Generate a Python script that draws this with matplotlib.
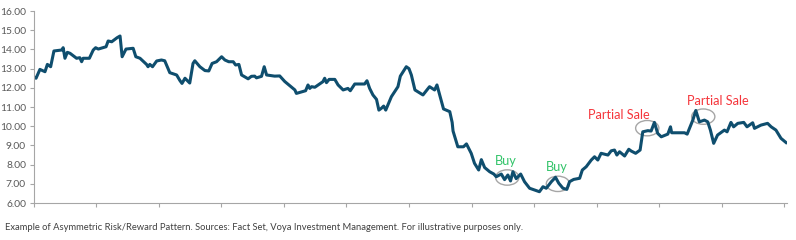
import matplotlib.pyplot as plt
from matplotlib.patches import Ellipse

plt.rcParams['font.family'] = ['Lato', 'DejaVu Sans']

# trading day index and share price
days = [0, 0.8, 2.1, 3.8, 4.6, 5.7, 6.8, 9.4, 9.9, 10.5, 11.3, 12.2, 14.4, 15.5, 16.1, 16.6,
        18.7, 20.0, 20.8, 21.7, 24.3, 25.0, 26.2, 28.0, 29.0, 29.7, 31.0, 33.4, 34.3, 35.7,
        37.9, 38.4, 39.0, 39.9, 41.3, 42.9, 44.0, 45.7, 48.0, 49.1, 49.8, 50.8, 52.4, 53.5,
        54.1, 55.8, 57.5, 58.8, 59.9, 61.4, 63.1, 64.2, 65.5, 67.0, 67.8, 68.9, 69.8, 72.0,
        73.1, 74.2, 74.8, 76.5, 77.4, 78.2, 80.9, 82.6, 84.3, 87.7, 88.2, 91.3, 92.1, 92.7,
        93.3, 94.4, 97.1, 97.7, 98.3, 99.2, 101.1, 102.2, 103.9, 105.5, 106.3, 107.8, 111.1,
        111.9, 112.8, 113.9, 115.1, 115.9, 116.7, 117.5, 118.2, 120.1, 122.3, 123.1, 125.1,
        126.0, 126.8, 128.0, 130.7, 132.9, 134.6, 135.4, 136.3, 137.6, 139.7, 140.5, 140.8,
        142.4, 144.3, 145.3, 146.9, 148.0, 149.4, 150.3, 151.4, 153.1, 154.5, 155.3, 157.0,
        158.1, 159.2, 160.1, 160.9, 162.0, 163.5, 164.8, 166.5, 167.6, 168.2, 169.8, 171.0,
        172.1, 173.8, 175.2, 176.3, 177.7, 179.0, 179.9, 181.3, 183.3, 184.2, 185.5, 187.2,
        188.3, 189.4, 190.5, 192.8, 193.9, 195.0, 195.8, 196.7, 198.4, 199.8, 200.6, 202.1,
        203.6, 204.5, 206.2, 207.3, 208.4, 209.5, 210.7, 212.9, 213.8, 214.2, 218.5, 219.4,
        221.3, 222.3, 223.5, 225.2, 226.3, 227.2, 228.3, 229.6, 231.9, 232.8, 234.1, 235.0,
        236.4, 238.4, 239.5, 241.4, 242.0, 244.2, 246.4, 247.6, 249.2, 250.9, 252.6]
price = [12.58, 12.5, 12.96, 12.84, 13.22, 13.1, 13.92, 13.97, 14.09, 13.54, 13.85, 13.8, 13.54,
         13.57, 13.36, 13.54, 13.54, 13.97, 14.09, 14.02, 14.14, 14.44, 14.4, 14.61, 14.7, 13.62,
         14.02, 14.06, 13.62, 13.54, 13.22, 13.1, 13.22, 13.1, 13.4, 13.45, 13.41, 12.79, 12.67,
         12.38, 12.23, 12.5, 12.25, 13.27, 13.41, 13.1, 12.9, 12.88, 13.27, 13.36, 13.62, 13.45,
         13.36, 13.36, 13.19, 13.22, 12.67, 12.47, 12.6, 12.61, 12.52, 12.6, 13.1, 12.67, 12.61,
         12.62, 12.33, 11.89, 11.71, 11.85, 12.15, 11.97, 12.06, 12.03, 12.32, 12.5, 12.27,
         12.44, 12.44, 12.15, 11.89, 11.97, 11.85, 12.2, 12.2, 12.37, 11.97, 11.63, 11.4, 10.84,
         10.93, 11.05, 10.84, 11.54, 12.06, 12.61, 13.1, 13.0, 12.67, 11.89, 11.63, 12.06,
         11.89, 12.15, 11.63, 10.9, 10.76, 10.2, 9.75, 8.93, 8.93, 9.08, 8.59, 8.07, 7.72, 8.26,
         7.85, 7.63, 7.51, 7.37, 7.51, 7.22, 7.46, 7.15, 7.63, 7.27, 7.51, 7.11, 6.77, 6.71,
         6.68, 6.59, 6.85, 6.77, 7.11, 7.34, 7.03, 6.77, 6.71, 7.11, 7.23, 7.29, 7.72, 7.89,
         8.24, 8.41, 8.24, 8.59, 8.5, 8.72, 8.76, 8.5, 8.67, 8.45, 8.8, 8.71, 8.59, 8.76, 9.71,
         9.77, 9.75, 10.2, 9.63, 9.45, 9.59, 9.97, 9.66, 9.66, 9.59, 10.32, 10.82, 10.23, 10.32,
         10.23, 9.8, 9.11, 9.54, 9.8, 9.71, 10.2, 9.97, 10.15, 10.2, 9.97, 10.18, 9.89, 10.06,
         10.15, 9.97, 9.8, 9.37, 9.15]

# annotations: label, ellipse centre (day, price), label centre (day, price), colour
notes = [("Buy", 159.0, 7.33, 158.5, 8.2, "#33c46a"),
         ("Buy", 176.0, 7.0, 175.5, 7.9, "#33c46a"),
         ("Partial Sale", 206.0, 9.9, 196.5, 10.6, "#f5363c"),
         ("Partial Sale", 224.8, 10.5, 229.6, 11.3, "#f5363c")]

fig = plt.figure(figsize=(7.96, 2.40), dpi=100)
ax = fig.add_axes([0.0423, 0.154, 0.9467, 0.8])

ax.plot(days, price, color="#0f4e6e", linewidth=2.2, solid_joinstyle="round")

for label, ex, ey, tx, ty, col in notes:
    ax.add_patch(Ellipse((ex, ey), 7.8, 0.8, fill=False, edgecolor="#a6a6a6", linewidth=1.0))
    ax.text(tx, ty, label, color=col, fontsize=9.2, ha="center", va="center")

ax.set_xlim(0, 253)
ax.set_ylim(6, 16)
ax.set_xticks(range(0, 253, 21))
ax.set_xticklabels([])
ax.set_yticks(range(6, 17))
ax.set_yticklabels(["%.2f" % v for v in range(6, 17)])
ax.tick_params(axis="y", labelsize=7.4, labelcolor="#595959", color="#a6a6a6", length=3, pad=2.5)
ax.tick_params(axis="x", color="#a6a6a6", length=3)
for s in ["top", "right"]:
    ax.spines[s].set_visible(False)
for s in ["left", "bottom"]:
    ax.spines[s].set_color("#a6a6a6")
    ax.spines[s].set_linewidth(0.8)

fig.text(0.006, 0.053, "Example of Asymmetric Risk/Reward Pattern. Sources: Fact Set, Voya Investment Management. For illustrative purposes only.",
         fontsize=6.75, color="#404040", ha="left", va="center")

fig.savefig("out.png", dpi=100)
